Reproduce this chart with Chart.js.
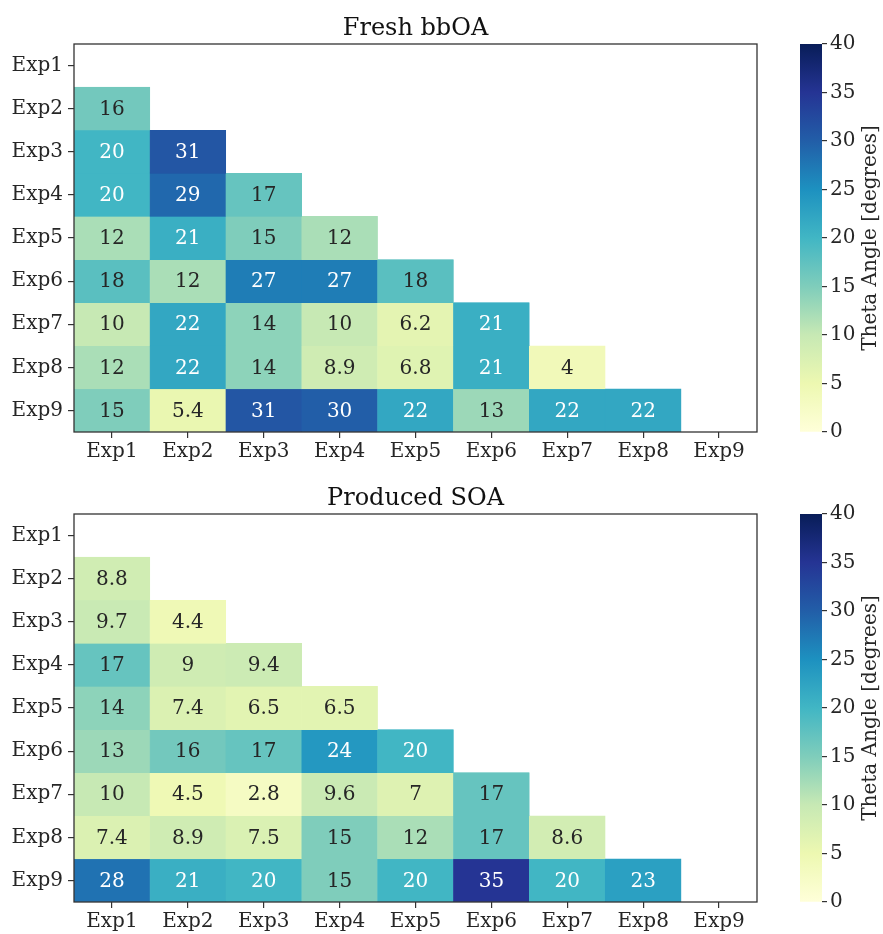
<!DOCTYPE html>
<html>
<head>
<meta charset="utf-8">
<script src="https://cdn.jsdelivr.net/npm/chart.js@4/dist/chart.umd.min.js"></script>
<style>
  html, body { margin: 0; padding: 0; background: #fff; }
  body { width: 883px; height: 934px; position: relative; overflow: hidden; }
  .c { position: absolute; }
</style>
</head>
<body>
<div class="c" id="w1" style="left:0;top:0;width:790px;height:470px;"><canvas id="h1"></canvas></div>
<div class="c" id="w2" style="left:800px;top:0;width:83px;height:470px;"><canvas id="cb1"></canvas></div>
<div class="c" id="w3" style="left:0;top:470px;width:790px;height:464px;"><canvas id="h2"></canvas></div>
<div class="c" id="w4" style="left:800px;top:470px;width:83px;height:464px;"><canvas id="cb2"></canvas></div>
<script>
const categories = ['Exp1','Exp2','Exp3','Exp4','Exp5','Exp6','Exp7','Exp8','Exp9'];
// lower-triangular values, row i (Exp(i+1)) has i entries (columns Exp1..Exp(i))
const freshBbOA = [
  [],
  [16],
  [20, 31],
  [20, 29, 17],
  [12, 21, 15, 12],
  [18, 12, 27, 27, 18],
  [10, 22, 14, 10, 6.2, 21],
  [12, 22, 14, 8.9, 6.8, 21, 4],
  [15, 5.4, 31, 30, 22, 13, 22, 22]
];
const producedSOA = [
  [],
  [8.8],
  [9.7, 4.4],
  [17, 9, 9.4],
  [14, 7.4, 6.5, 6.5],
  [13, 16, 17, 24, 20],
  [10, 4.5, 2.8, 9.6, 7, 17],
  [7.4, 8.9, 7.5, 15, 12, 17, 8.6],
  [28, 21, 20, 15, 20, 35, 20, 23]
];
const colorbarTicks = [0, 5, 10, 15, 20, 25, 30, 35, 40];
const colorbarLabel = 'Theta Angle [degrees]';
const vmin = 0, vmax = 40;

// YlGnBu colormap stops
const cmap = ['#ffffd9','#edf8b1','#c7e9b4','#7fcdbb','#41b6c4','#1d91c0','#225ea8','#253494','#081d58'];
function hex2rgb(h){ return [parseInt(h.slice(1,3),16),parseInt(h.slice(3,5),16),parseInt(h.slice(5,7),16)]; }
const cmapRGB = cmap.map(hex2rgb);
function colorFor(v){
  let t = (v - vmin) / (vmax - vmin);
  t = Math.max(0, Math.min(1, t));
  const p = t * (cmapRGB.length - 1);
  const i = Math.min(Math.floor(p), cmapRGB.length - 2);
  const f = p - i;
  const a = cmapRGB[i], b = cmapRGB[i+1];
  return [0,1,2].map(k => Math.round(a[k] + (b[k]-a[k])*f));
}
function rgbStr(c){ return 'rgb(' + c[0] + ',' + c[1] + ',' + c[2] + ')'; }
function lum(c){
  const l = c.map(x => { x /= 255; return x <= 0.03928 ? x/12.92 : Math.pow((x+0.055)/1.055, 2.4); });
  return 0.2126*l[0] + 0.7152*l[1] + 0.0722*l[2];
}

const FONT = "'DejaVu Serif', serif";
const INK = '#262626';
const TICK_SIZE = 20;

const framePlugin = {
  id: 'frame',
  afterDraw(chart) {
    if (!chart.options.plugins.frame || !chart.options.plugins.frame.show) return;
    const a = chart.chartArea, c = chart.ctx;
    c.save();
    c.strokeStyle = '#333';
    c.lineWidth = 1.3;
    c.strokeRect(a.left, a.top, a.right - a.left, a.bottom - a.top);
    c.restore();
  }
};

const labelPlugin = {
  id: 'cellLabels',
  afterDatasetsDraw(chart) {
    const opt = chart.options.plugins.cellLabels;
    if (!opt || !opt.values) return;
    const c = chart.ctx;
    c.save();
    c.font = TICK_SIZE + 'px ' + FONT;
    c.textAlign = 'center';
    c.textBaseline = 'middle';
    chart.data.datasets.forEach((ds, di) => {
      const meta = chart.getDatasetMeta(di);
      meta.data.forEach((el, ci) => {
        const v = opt.values[di][ci];
        if (v === undefined) return;
        const col = colorFor(v);
        c.fillStyle = lum(col) < 0.408 ? '#ffffff' : INK;
        const y = (el.y + el.base) / 2;
        c.fillText(String(v), el.x, y + 1);
      });
    });
    c.restore();
  }
};

const cbTitlePlugin = {
  id: 'cbTitle',
  afterDraw(chart) {
    const opt = chart.options.plugins.cbTitle;
    if (!opt || !opt.text) return;
    const a = chart.chartArea, c = chart.ctx;
    c.save();
    c.translate(opt.x, (a.top + a.bottom) / 2);
    c.rotate(-Math.PI / 2);
    c.font = TICK_SIZE + 'px ' + FONT;
    c.fillStyle = INK;
    c.textAlign = 'center';
    c.textBaseline = 'middle';
    c.fillText(opt.text, 0, 0);
    c.restore();
  }
};

function makeHeatmap(id, title, values, bottomPad) {
  const datasets = values.map((row, r) => ({
    label: categories[r],
    data: categories.map((_, ci) => ci < row.length ? [r, r + 1] : null),
    backgroundColor: categories.map((_, ci) => ci < row.length ? rgbStr(colorFor(row[ci])) : 'rgba(0,0,0,0)'),
    borderColor: categories.map((_, ci) => ci < row.length ? rgbStr(colorFor(row[ci])) : 'rgba(0,0,0,0)'),
    borderWidth: 0.5,
    borderSkipped: false,
    barPercentage: 1.0,
    categoryPercentage: 1.0,
    grouped: false
  }));
  return new Chart(document.getElementById(id), {
    type: 'bar',
    data: { labels: categories, datasets },
    options: {
      responsive: true,
      maintainAspectRatio: false,
      animation: false,
      layout: { padding: { left: 0, right: 33, top: 0, bottom: bottomPad } },
      plugins: {
        legend: { display: false },
        tooltip: { enabled: false },
        title: {
          display: true, text: title, color: '#111', fullSize: false,
          font: { family: FONT, size: 24, weight: 'normal', lineHeight: 1.2 },
          padding: { top: 14, bottom: 1.2 }
        },
        frame: { show: true },
        cellLabels: { values }
      },
      scales: {
        x: {
          type: 'category',
          offset: true,
          grid: { display: true, drawOnChartArea: false, drawTicks: true, tickLength: 6, offset: false, color: '#333', lineWidth: 1.2 },
          border: { display: false },
          ticks: { color: INK, font: { family: FONT, size: TICK_SIZE }, padding: 2, maxRotation: 0, autoSkip: false },
          afterFit(s) { s.height = 30; }
        },
        y: {
          type: 'linear',
          min: 0, max: 9, reverse: true,
          grid: { display: true, drawOnChartArea: false, drawTicks: true, tickLength: 6, color: '#333', lineWidth: 1.2 },
          border: { display: false },
          afterBuildTicks(s) { s.ticks = categories.map((_, i) => ({ value: i + 0.5 })); },
          ticks: {
            color: INK, font: { family: FONT, size: TICK_SIZE }, padding: 5, autoSkip: false,
            callback: (v) => categories[Math.floor(v)]
          },
          afterFit(s) { s.width = 74; }
        }
      }
    },
    plugins: [framePlugin, labelPlugin]
  });
}

function makeColorbar(id, bottomPad) {
  return new Chart(document.getElementById(id), {
    type: 'bar',
    data: {
      labels: [''],
      datasets: [{
        data: [[vmin, vmax]],
        barPercentage: 1.0, categoryPercentage: 1.0,
        borderWidth: 0,
        backgroundColor: (ctx) => {
          const ch = ctx.chart, a = ch.chartArea;
          if (!a) return cmap[0];
          const g = ch.ctx.createLinearGradient(0, a.bottom, 0, a.top);
          cmap.forEach((col, i) => g.addColorStop(i / (cmap.length - 1), col));
          return g;
        }
      }]
    },
    options: {
      responsive: true,
      maintainAspectRatio: false,
      animation: false,
      layout: { padding: { left: 0, right: 0, top: 44, bottom: bottomPad } },
      plugins: {
        legend: { display: false }, tooltip: { enabled: false },
        cbTitle: { text: colorbarLabel, x: 71 }
      },
      scales: {
        x: { display: false, offset: true },
        y: {
          position: 'right',
          min: vmin, max: vmax,
          afterBuildTicks(s) { s.ticks = colorbarTicks.map(v => ({ value: v })); },
          grid: { display: true, drawOnChartArea: false, drawTicks: true, tickLength: 5, color: '#333', lineWidth: 1.2 },
          border: { display: false },
          ticks: { color: INK, font: { family: FONT, size: TICK_SIZE }, padding: 3, autoSkip: false },
          afterFit(s) { s.width = 61; }
        }
      }
    },
    plugins: [cbTitlePlugin]
  });
}

makeHeatmap('h1', 'Fresh bbOA', freshBbOA, 8);
makeColorbar('cb1', 38);
makeHeatmap('h2', 'Produced SOA', producedSOA, 2);
makeColorbar('cb2', 32);
</script>
</body>
</html>
